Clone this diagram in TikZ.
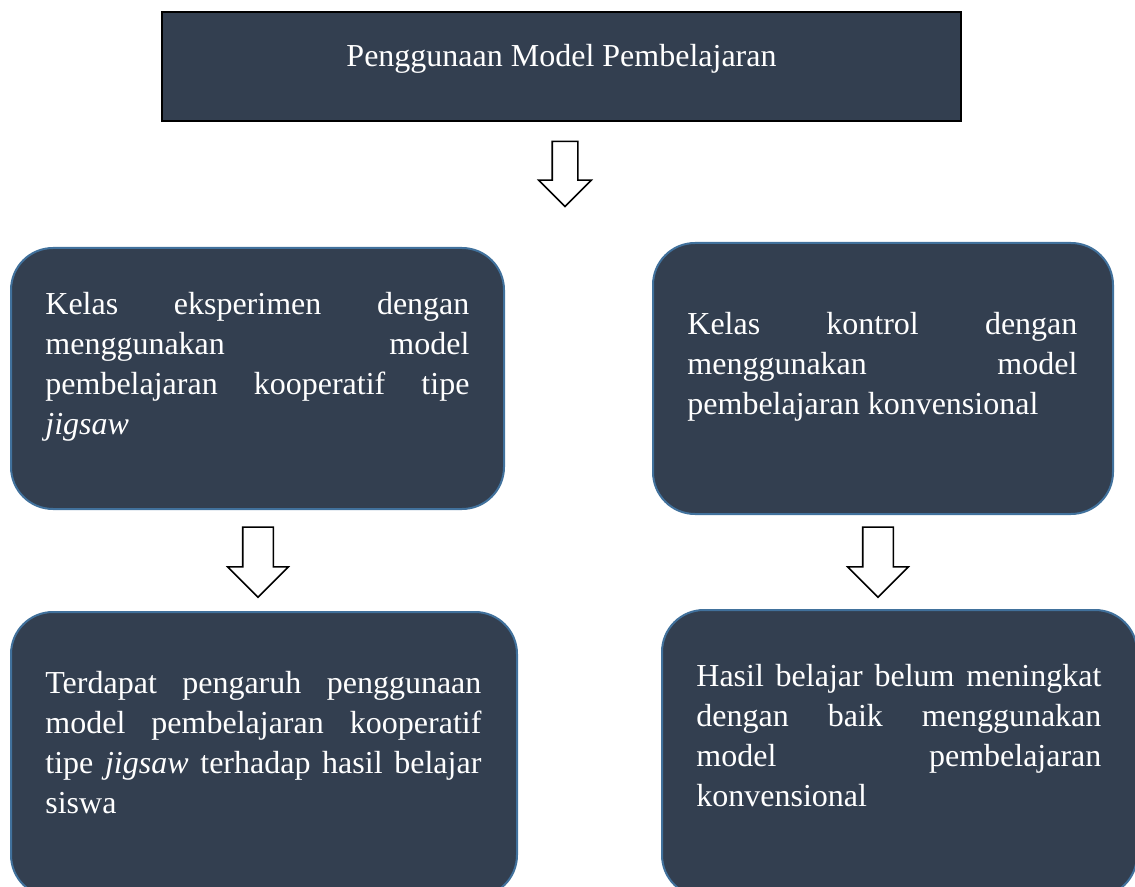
\documentclass[tikz,border=0pt]{standalone}
\usepackage{fontspec}
\setmainfont{Liberation Serif}
\usetikzlibrary{shapes.arrows}

\definecolor{boxfill}{RGB}{51,63,80}
\definecolor{boxline}{RGB}{65,113,156}

% lines are broken by hand, so let them stretch
\tolerance=10000
\hbadness=10000
\hyphenpenalty=10000

\tikzset{
  titlebox/.style={draw=black, line width=1.2pt, fill=boxfill, text=white, inner sep=0pt,
    minimum width=399.5pt, minimum height=54.5pt, text height=6pt, text depth=6pt,
    font=\fontsize{16}{20}\selectfont},
  roundbox/.style={draw=boxline, line width=1pt, fill=boxfill, rounded corners=21pt,
    inner sep=0pt, anchor=north west},
  boxtext/.style={text=white, inner sep=0pt, anchor=base west, align=justify,
    font=\fontsize{16}{20}\selectfont},
  hollowarrow/.style={single arrow, draw=black, line width=0.8pt, fill=white,
    shape border rotate=270, single arrow head indent=0pt}
}

\begin{document}
\begin{tikzpicture}[x=0.5pt, y=-0.5pt]

    \useasboundingbox (0,0) rectangle (1135,887);
    \clip (0,0) rectangle (1135,887);

    \node[titlebox] (model) at (561.5,66.5) {Penggunaan Model Pembelajaran};

    % kelas eksperimen / kontrol
    \node[roundbox, minimum width=246.5pt, minimum height=130.5pt] (eks) at (10,247) {};
    \node[roundbox, minimum width=230pt, minimum height=135.5pt] (kon) at (652,242) {};
    \node[boxtext, text width=212pt] (ekstext) at (45,315)
      {Kelas eksperimen dengan\linebreak menggunakan model\linebreak pembelajaran kooperatif tipe\linebreak \emph{jigsaw}};
    \node[boxtext, text width=195pt] (kontext) at (687,335)
      {Kelas kontrol dengan\linebreak menggunakan model\linebreak pembelajaran konvensional};

    % hasil
    \node[roundbox, minimum width=253pt, minimum height=142.5pt] (pengaruh) at (10,611) {};
    \node[roundbox, minimum width=237.5pt, minimum height=143.5pt] (hasil) at (661,609) {};
    \node[boxtext, text width=218pt] (pengaruhtext) at (45,693)
      {Terdapat pengaruh penggunaan\linebreak model pembelajaran kooperatif\linebreak tipe \emph{jigsaw} terhadap hasil belajar\linebreak siswa};
    \node[boxtext, text width=202.5pt] (hasiltext) at (696,686)
      {Hasil belajar belum meningkat\linebreak dengan baik menggunakan\linebreak model pembelajaran\linebreak konvensional};

    \node[hollowarrow, inner sep=6pt, minimum width=25.5pt, minimum height=32.5pt,
      single arrow head extend=6.75pt] (arrtop) at (565,167.5) {};
    \node[hollowarrow, inner sep=7.25pt, minimum width=29.5pt, minimum height=35pt,
      single arrow head extend=7.5pt] (arrleft) at (258,554.5) {};
    \node[hollowarrow, inner sep=7.25pt, minimum width=29.5pt, minimum height=35pt,
      single arrow head extend=7.5pt] (arrright) at (878,554.5) {};

\end{tikzpicture}
\end{document}
